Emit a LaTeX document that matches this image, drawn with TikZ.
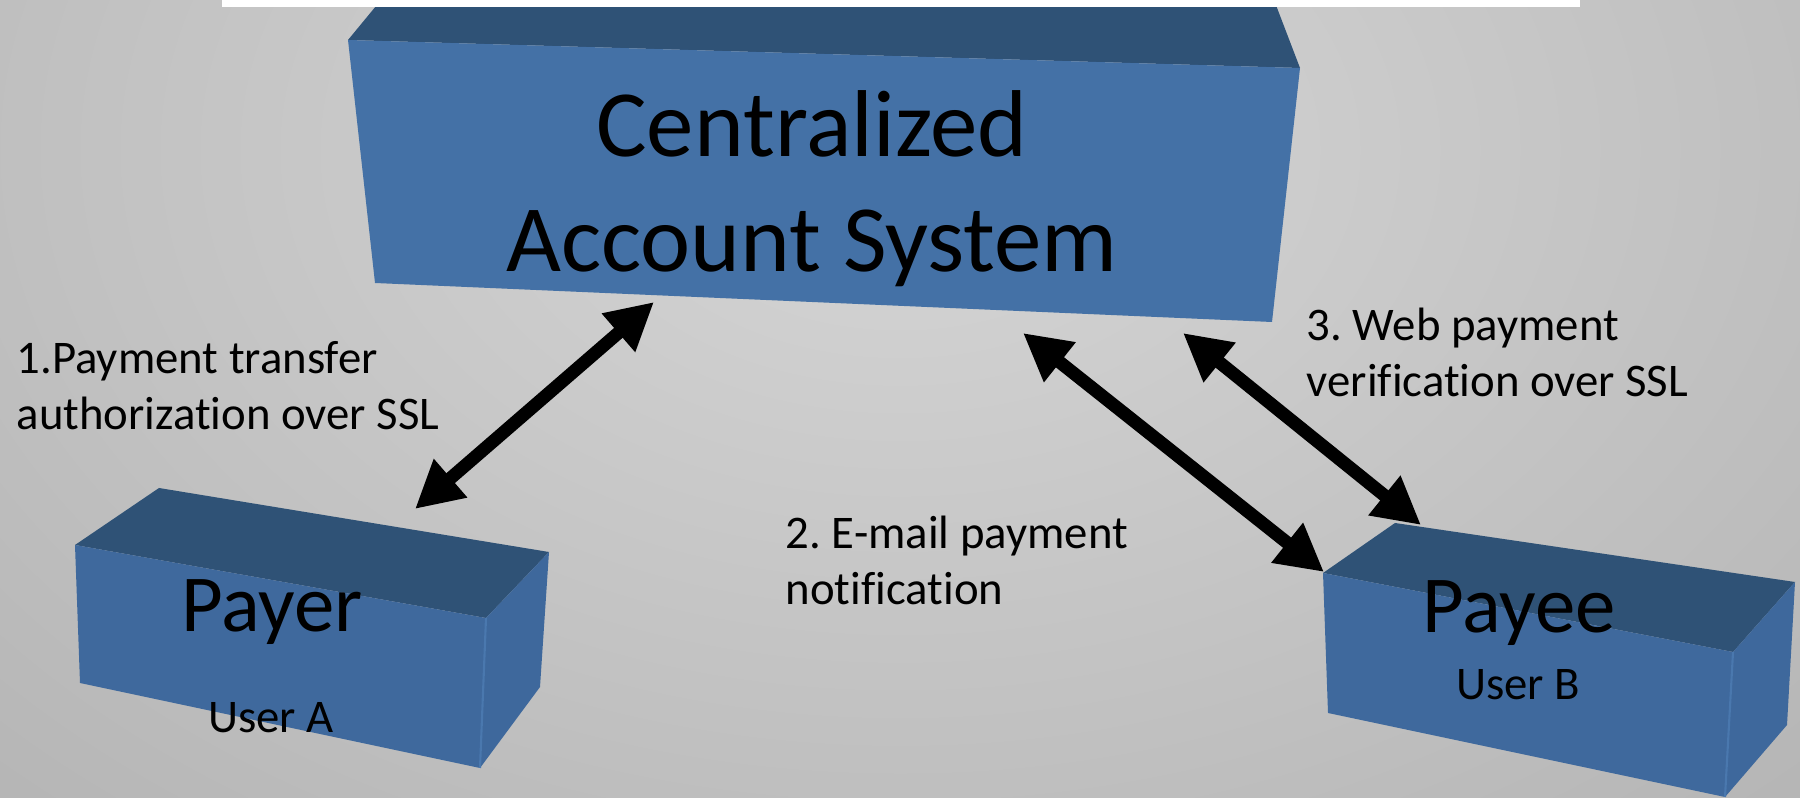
\documentclass[tikz,border=0pt]{standalone}
\usepackage{fontspec}
\setmainfont{Carlito}[Ligatures=CommonOff]
\frenchspacing
\usetikzlibrary{arrows.meta}
\definecolor{bgin}{HTML}{D6D6D6}
\definecolor{bgout}{HTML}{959595}
\definecolor{blocktop}{HTML}{2F5276}
\definecolor{blockfront}{HTML}{4471A6}
\definecolor{cubefront}{HTML}{3F699D}
\definecolor{cubeside}{HTML}{3E689C}
\definecolor{cubeedge}{HTML}{4A78AE}
\begin{document}
\begin{tikzpicture}[x=0.01cm,y=-0.01cm,>={Triangle[length=13.4pt,width=13.6pt]}]
          \tikzstyle{topface}=[fill=blocktop]
          \tikzstyle{frontface}=[fill=blockfront]
          \tikzstyle{cubeface}=[fill=cubefront]
          \tikzstyle{sideface}=[fill=cubeside]
          \tikzstyle{title}=[font=\fontsize{27}{32.7}\selectfont,align=center,inner sep=0pt]
          \tikzstyle{role}=[font=\fontsize{23}{28}\selectfont,inner sep=0pt,anchor=base]
          \tikzstyle{user}=[font=\fontsize{13.3}{16.2}\selectfont,inner sep=0pt,anchor=base]
          \tikzstyle{note}=[font=\fontsize{13.3}{16.2}\selectfont,align=left,inner sep=0pt,anchor=base west]
          \tikzstyle{link}=[draw,line width=3.7pt,<->]
          \useasboundingbox (0,0) rectangle (1800,798);
          \begin{scope}
              \clip (0,0) rectangle (1800,798);
              \shade[inner color=bgin,outer color=bgout] (-1700,-1650) rectangle (3500,1950);
          \end{scope}
          \begin{scope}
              \fill[topface] (381,0) -- (1274,0) -- (1300,68) -- (348,40) -- cycle;
              \fill[frontface] (348,40) -- (1300,68) -- (1272,322) -- (375,283) -- cycle;
              \fill[white] (222,0) rectangle (1580,7);
              \fill[topface] (159,488) -- (549,552) -- (486,618) -- (75,545) -- cycle;
              \fill[cubeface] (75,545) -- (486,618) -- (480,768) -- (80,683) -- cycle;
              \fill[sideface] (486,618) -- (549,552) -- (540,687) -- (480,768) -- cycle;
              \draw[cubeedge,line width=0.6pt] (486,618) -- (480,768);
              \fill[topface] (1395,523) -- (1795,582) -- (1733,652) -- (1323,573) -- cycle;
              \fill[cubeface] (1323,573) -- (1733,652) -- (1725,797) -- (1328,713) -- cycle;
              \fill[sideface] (1733,652) -- (1795,582) -- (1787,725) -- (1725,797) -- cycle;
              \draw[cubeedge,line width=0.6pt] (1733,652) -- (1725,797);
          \end{scope}
          \begin{scope}
              \node [title,anchor=base] (cas) at (812,272) {Centralized\\Account System};
              \node [role] (payer) at (272,632) {Payer};
              \node [user] (usera) at (271,733) {User A};
              \node [role] (payee) at (1519,633) {Payee};
              \node [user] (userb) at (1518,700) {User B};
              \node [note] (auth) at (16,430) {1.Payment transfer\\authorization over SSL};
              \node [note] (mail) at (785,605) {2. E-mail payment\\notification};
              \node [note] (verify) at (1306,397) {3. Web payment\\verification over SSL};
          \end{scope}
          \begin{scope}
              \coordinate (cas-auth) at (654,302);
              \coordinate (payer-auth) at (415,509);
              \coordinate (cas-mail) at (1023,333);
              \coordinate (payee-mail) at (1324,572);
              \coordinate (cas-verify) at (1183,333);
              \coordinate (payee-verify) at (1421,525);
              \path (cas-auth) edge [link] (payer-auth);
              \path (cas-mail) edge [link] (payee-mail);
              \path (cas-verify) edge [link] (payee-verify);
          \end{scope}
        \end{tikzpicture}
\end{document}
